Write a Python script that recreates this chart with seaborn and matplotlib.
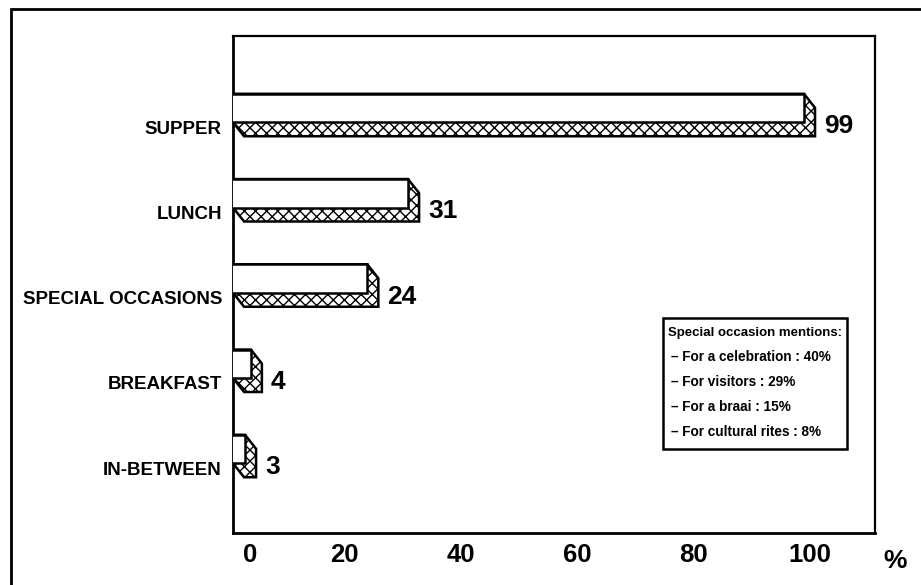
import numpy as np
import pandas as pd
import matplotlib
matplotlib.use("Agg")
import matplotlib.pyplot as plt
import matplotlib.transforms as mtransforms
from matplotlib.patches import Polygon, Rectangle
from matplotlib import font_manager as fm
import seaborn as sns

# ---- data ----
categories = ["SUPPER", "LUNCH", "SPECIAL OCCASIONS", "BREAKFAST", "IN-BETWEEN"]
values = [99, 31, 24, 4, 3]
x_major = [20, 40, 60, 80, 100]
x_minor = [10, 30, 50, 70, 90]
legend_title = "Special occasion mentions:"
legend_items = [
    "– For a celebration : 40%",
    "– For visitors : 29%",
    "– For a braai : 15%",
    "– For cultural rites : 8%",
]

sns.set_style("white")
names = {f.name for f in fm.fontManager.ttflist}
fam = "Liberation Sans Narrow" if "Liberation Sans Narrow" in names else "Liberation Sans"
plt.rcParams["font.family"] = [fam, "DejaVu Sans"]
plt.rcParams["text.color"] = "black"
plt.rcParams["xtick.color"] = "black"
plt.rcParams["ytick.color"] = "black"
plt.rcParams["hatch.linewidth"] = 1.0
plt.rcParams["hatch.color"] = "black"

W, H = 921, 585
fig = plt.figure(figsize=(W / 100, H / 100), dpi=100)
fig.patch.set_facecolor("white")
ax = fig.add_axes([233 / W, (H - 533) / H, (875 - 233) / W, (533 - 36) / H])

df = pd.DataFrame({"category": categories, "value": values})
sns.barplot(data=df, x="value", y="category", orient="h", color="white",
            saturation=1, width=0.334, edgecolor="black", linewidth=1.8, ax=ax)

ax.set_xlim(0.94, 111.2)
ax.set_ylim(4.985, -0.845)
ax.set_xlabel("")
ax.set_ylabel("")

bars = list(ax.patches)
x0 = ax.get_xlim()[0]
dx, dy = 1.9, 0.164
for p, v in zip(bars, values):
    p.set_zorder(3)
    x1 = p.get_x() + p.get_width()
    yt = p.get_y()
    yb = yt + p.get_height()
    poly = Polygon([(x0, yt), (x1, yt), (x1 + dx, yt + dy), (x1 + dx, yb + dy),
                    (x0 + dx, yb + dy), (x0, yb)], closed=True,
                   facecolor="white", edgecolor="black", hatch="xxx",
                   linewidth=1.8, zorder=2)
    ax.add_patch(poly)
    ax.annotate(str(v), xy=(x1 + dx, yt + p.get_height() / 2),
                xytext=(9, -18), textcoords="offset pixels",
                ha="left", va="center", fontsize=19, fontweight="bold",
                color="black")

# ticks
ax.set_xticks(x_major)
ax.set_xticks(x_minor, minor=True)
ax.tick_params(axis="x", which="major", direction="in", length=20, width=1.6,
               pad=7, labelsize=18.5, colors="black")
ax.tick_params(axis="x", which="minor", direction="in", length=11, width=1.6)
for lab in ax.get_xticklabels():
    lab.set_fontweight("bold")
ax.tick_params(axis="y", length=0, pad=8, labelsize=13.5, colors="black")
off = mtransforms.ScaledTranslation(0, -19 / 100, fig.dpi_scale_trans)
for lab in ax.get_yticklabels():
    lab.set_fontweight("bold")
    lab.set_transform(lab.get_transform() + off)

trans = mtransforms.blended_transform_factory(ax.transData, ax.transAxes)
ax.text(3.9, -0.0196, "0", transform=trans, ha="center", va="top",
        fontsize=18.5, fontweight="bold", color="black")

for s in ["left", "bottom"]:
    ax.spines[s].set_linewidth(2.0)
for s in ["top", "right"]:
    ax.spines[s].set_linewidth(1.6)
for s in ax.spines.values():
    s.set_color("black")
    s.set_visible(True)

fig.text(895 / W, 1 - 561 / H, "%", ha="center", va="center",
         fontsize=19, fontweight="bold", color="black")

# outer frame
fig.add_artist(Rectangle((11 / W, -0.05), 1.0, 1 - 9 / H + 0.05,
                         transform=fig.transFigure, fill=False,
                         edgecolor="black", linewidth=2))

# legend box
bx0, bx1, by0, by1 = 663, 847, 318, 449
fig.add_artist(Rectangle((bx0 / W, 1 - by1 / H), (bx1 - bx0) / W, (by1 - by0) / H,
                         transform=fig.transFigure, facecolor="white",
                         edgecolor="black", linewidth=1.8, zorder=5))
fig.text(668 / W, 1 - 333 / H, legend_title, ha="left", va="center",
         fontsize=9.5, fontweight="bold", zorder=6, color="black")
for yy, item in zip([357, 382, 407, 432], legend_items):
    fig.text(671 / W, 1 - yy / H, item, ha="left", va="center",
             fontsize=9.8, fontweight="bold", zorder=6, color="black")

fig.savefig("out.png", dpi=100)
